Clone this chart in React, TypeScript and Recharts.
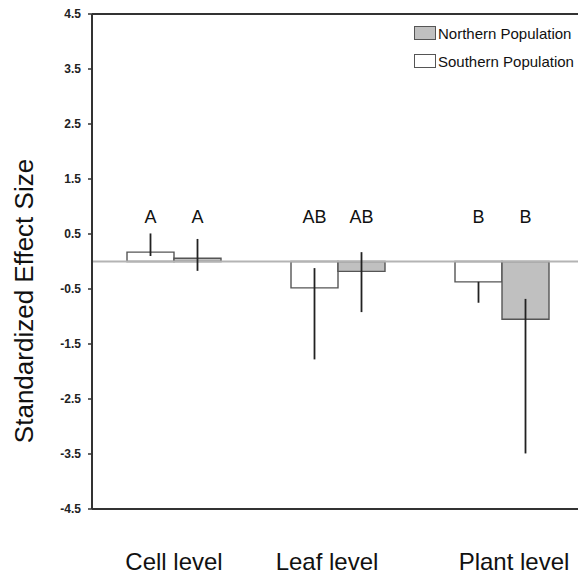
import React from "react";
import {
  Bar,
  BarChart,
  ErrorBar,
  LabelList,
  ReferenceLine,
  XAxis,
  YAxis,
} from "recharts";

const levels = ["Cell level", "Leaf level", "Plant level"];
const southern = [0.17, -0.48, -0.37];
const northern = [0.06, -0.18, -1.05];
const southernLow = [0.1, -1.78, -0.75];
const southernHigh = [0.51, -0.12, -0.37];
const northernLow = [-0.17, -0.92, -3.49];
const northernHigh = [0.41, 0.17, -0.68];
const southernGroup = ["A", "AB", "B"];
const northernGroup = ["A", "AB", "B"];
const yTicks = [-4.5, -3.5, -2.5, -1.5, -0.5, 0.5, 1.5, 2.5, 3.5, 4.5];

const data = levels.map((level, i) => ({
  level,
  southern: southern[i],
  northern: northern[i],
  southernErr: [southern[i] - southernLow[i], southernHigh[i] - southern[i]],
  northernErr: [northern[i] - northernLow[i], northernHigh[i] - northern[i]],
  southernGroup: southernGroup[i],
  northernGroup: northernGroup[i],
}));

const FONT = "'Liberation Sans', Arial, Helvetica, sans-serif";
const GRAY = "#c0c0c0";
const EDGE = "#555";
const INK = "#111";

const WIDTH = 584;
const HEIGHT = 575;
const PLOT_TOP = 14;
const PLOT_BOTTOM = 509;
const Y_MIN = -4.5;
const Y_MAX = 4.5;
const GROUP_LEVEL = 0.7; // height where the significance letters sit

// category labels are hand-placed slightly off the band centres
const labelNudge = [0, -11, 12];

const legendItems = [
  { name: "Northern Population", fill: GRAY },
  { name: "Southern Population", fill: "#ffffff" },
];

const yOf = (v: number) =>
  PLOT_TOP + ((Y_MAX - v) / (Y_MAX - Y_MIN)) * (PLOT_BOTTOM - PLOT_TOP);

const GroupLetter = (props: any) => {
  const { x, width, value } = props;
  return (
    <text
      x={x + width / 2}
      y={yOf(GROUP_LEVEL)}
      textAnchor="middle"
      fontSize={18}
      fontFamily={FONT}
      fill={INK}
    >
      {value}
    </text>
  );
};

const LevelTick = (props: any) => {
  const { x, y, payload, index } = props;
  return (
    <text
      x={x + (labelNudge[index] || 0)}
      y={y + 61}
      textAnchor="middle"
      fontSize={24}
      fontFamily={FONT}
      fill={INK}
    >
      {payload.value}
    </text>
  );
};

const AxisTitle = () => {
  const cy = 301;
  const cx = 33;
  return (
    <text
      x={cx}
      y={cy}
      transform={`rotate(-90 ${cx} ${cy})`}
      textAnchor="middle"
      fontSize={26}
      fontFamily={FONT}
      fill={INK}
    >
      Standardized Effect Size
    </text>
  );
};

const PopulationLegend = () => (
  <div
    style={{
      position: "absolute",
      left: 414,
      top: 19,
      fontFamily: FONT,
      fontSize: 15,
      color: INK,
    }}
  >
    {legendItems.map((item) => (
      <div
        key={item.name}
        style={{ display: "flex", alignItems: "center", height: 28 }}
      >
        <span
          style={{
            display: "inline-block",
            width: 22,
            height: 14,
            boxSizing: "border-box",
            border: `1.5px solid ${EDGE}`,
            background: item.fill,
            marginRight: 2,
          }}
        />
        <span style={{ whiteSpace: "nowrap" }}>{item.name}</span>
      </div>
    ))}
  </div>
);

export default function App() {
  return (
    <div
      style={{
        position: "fixed",
        left: 0,
        top: 0,
        width: 578,
        height: 575,
        overflow: "hidden",
        background: "#fff",
      }}
    >
      <BarChart
        width={WIDTH}
        height={HEIGHT}
        data={data}
        margin={{ top: PLOT_TOP, right: 0, left: 0, bottom: 0 }}
        barCategoryGap={35}
        barGap={0}
      >
        <XAxis
          dataKey="level"
          height={HEIGHT - PLOT_BOTTOM}
          tickLine={false}
          tickSize={0}
          tickMargin={0}
          axisLine={{ stroke: "#333", strokeWidth: 2 }}
          tick={<LevelTick />}
          interval={0}
        />
        <YAxis
          width={92}
          domain={[Y_MIN, Y_MAX]}
          ticks={yTicks}
          allowDataOverflow
          tickSize={4}
          tickMargin={7}
          axisLine={{ stroke: "#333", strokeWidth: 2 }}
          tickLine={{ stroke: "#333", strokeWidth: 1.5 }}
          tick={{ fontSize: 12, fontWeight: "bold", fill: "#222", fontFamily: FONT }}
          label={<AxisTitle />}
        />
        <ReferenceLine y={Y_MAX} stroke="#333" strokeWidth={2} />
        <ReferenceLine y={0} stroke="#b4b4b4" strokeWidth={1.8} />
        <Bar
          dataKey="southern"
          name="Southern Population"
          fill="#ffffff"
          stroke={EDGE}
          strokeWidth={1.4}
          isAnimationActive={false}
        >
          <ErrorBar
            dataKey="southernErr"
            width={0}
            stroke="#222"
            strokeWidth={1.8}
            direction="y"
          />
          <LabelList dataKey="southernGroup" content={<GroupLetter />} />
        </Bar>
        <Bar
          dataKey="northern"
          name="Northern Population"
          fill={GRAY}
          stroke={EDGE}
          strokeWidth={1.4}
          isAnimationActive={false}
        >
          <ErrorBar
            dataKey="northernErr"
            width={0}
            stroke="#222"
            strokeWidth={1.8}
            direction="y"
          />
          <LabelList dataKey="northernGroup" content={<GroupLetter />} />
        </Bar>
      </BarChart>
      <PopulationLegend />
    </div>
  );
}
